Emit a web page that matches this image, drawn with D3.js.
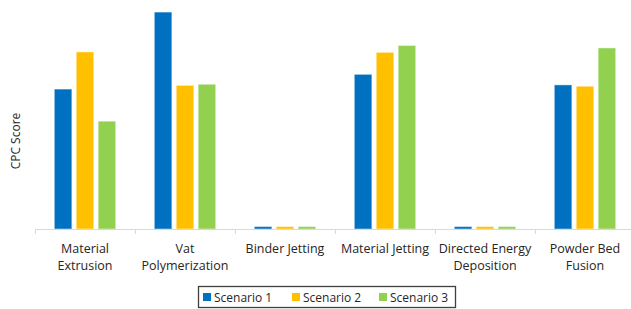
<!DOCTYPE html>
<html>
<head>
<meta charset="utf-8">
<script src="https://cdn.jsdelivr.net/npm/d3@7"></script>
<style>
  body { margin: 0; background: #fff; }
  text { font-family: "Open Sans", "Noto Sans", sans-serif; fill: #262626; }
</style>
</head>
<body>
<svg id="chart" width="631" height="309"></svg>
<script>
// categories (label lines split for wrapping)
let categories = ["Material Extrusion", "Vat Polymerization", "Binder Jetting",
  "Material Jetting", "Directed Energy Deposition", "Powder Bed Fusion"];
let labelLines = [["Material", "Extrusion"], ["Vat", "Polymerization"], ["Binder Jetting"],
  ["Material Jetting"], ["Directed Energy", "Deposition"], ["Powder Bed", "Fusion"]];
let seriesNames = ["Scenario 1", "Scenario 2", "Scenario 3"];
let colors = ["#0070C0", "#FFC000", "#92D050"];

// values (no y axis scale shown, relative units)
let scenario1 = [63.6, 98.6, 1.1, 70.3, 1.1, 65.5];
let scenario2 = [80.5, 65.3, 1.1, 80.3, 1.1, 64.9];
let scenario3 = [49.0, 65.8, 1.1, 83.4, 1.1, 82.3];
let series = [scenario1, scenario2, scenario3];

let svg = d3.select("#chart");
let baseY = 229;

let x = d3.scaleBand().domain(categories).range([35, 635]).paddingInner(0).paddingOuter(0);
let xSub = d3.scaleBand().domain(seriesNames).range([19.3, 80.7]).paddingInner(0.2);
let y = d3.scaleLinear().domain([0, 100]).range([baseY, 9]);

// bars
let groups = svg.append("g").selectAll("g").data(categories).enter().append("g")
  .attr("transform", d => `translate(${x(d)},0)`);

groups.selectAll("rect").data((d, i) => series.map((s, j) => ({name: seriesNames[j], value: s[i], color: colors[j]})))
  .enter().append("rect")
  .attr("x", d => xSub(d.name))
  .attr("width", xSub.bandwidth())
  .attr("y", d => y(d.value))
  .attr("height", d => baseY - y(d.value))
  .attr("fill", d => d.color)
  .attr("stroke", "#fff")
  .attr("stroke-opacity", 0.45)
  .attr("stroke-width", 1);

// x axis line + ticks at category boundaries
let axis = svg.append("g");
axis.append("line")
  .attr("x1", 35).attr("x2", 631)
  .attr("y1", baseY + 0.5).attr("y2", baseY + 0.5)
  .attr("stroke", "#d9d9d9").attr("stroke-width", 1);
axis.selectAll("line.tick").data(categories).enter().append("line")
  .attr("class", "tick")
  .attr("x1", d => Math.round(x(d)) + 0.5).attr("x2", d => Math.round(x(d)) + 0.5)
  .attr("y1", baseY).attr("y2", baseY + 5)
  .attr("stroke", "#d9d9d9").attr("stroke-width", 1);

// category labels
axis.selectAll("text.cat").data(categories).enter().append("text")
  .attr("class", "cat")
  .attr("text-anchor", "middle")
  .attr("font-size", "12.5px")
  .each(function (d, i) {
    let t = d3.select(this);
    labelLines[i].forEach((ln, k) => {
      t.append("tspan")
        .attr("x", x(d) + x.bandwidth() / 2)
        .attr("y", 253 + k * 16.5)
        .text(ln);
    });
  });

// y axis title
svg.append("text")
  .attr("transform", "translate(19.5,141) rotate(-90)")
  .attr("text-anchor", "middle")
  .attr("font-size", "12px")
  .text("CPC Score");

// legend
let legend = svg.append("g");
legend.append("rect")
  .attr("x", 198.5).attr("y", 286.5)
  .attr("width", 257).attr("height", 21)
  .attr("fill", "#fff")
  .attr("stroke", "#404040").attr("stroke-width", 1.3);
let legendX = [203, 292, 379];
let items = legend.selectAll("g.item").data(seriesNames).enter().append("g")
  .attr("class", "item")
  .attr("transform", (d, i) => `translate(${legendX[i]},0)`);
items.append("rect")
  .attr("x", 0).attr("y", 293).attr("width", 8).attr("height", 8)
  .attr("fill", (d, i) => colors[i]);
items.append("text")
  .attr("x", 11).attr("y", 301.5)
  .attr("font-size", "12px")
  .text(d => d);
</script>
</body>
</html>
